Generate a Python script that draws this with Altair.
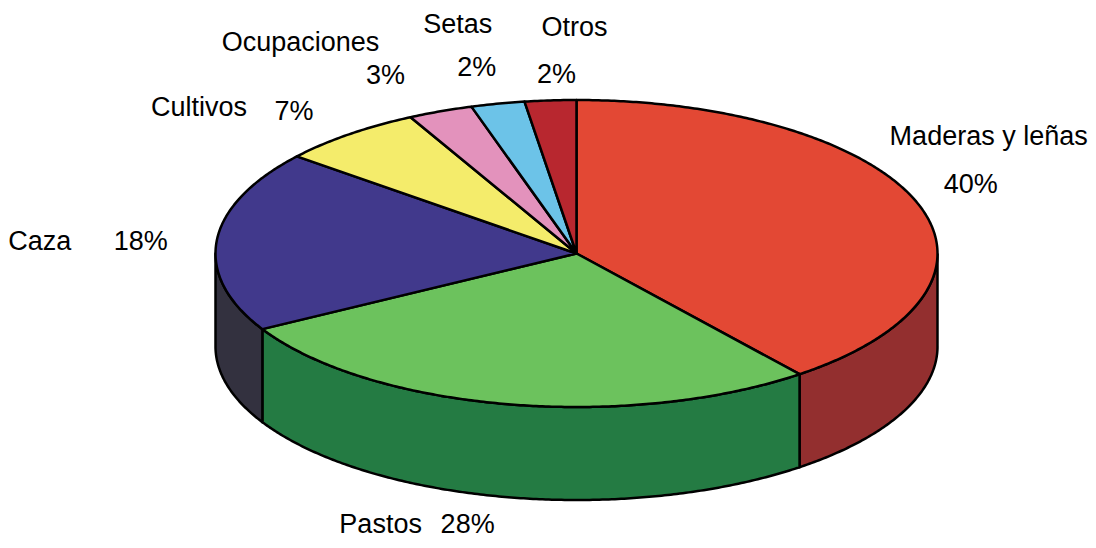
import altair as alt
import numpy as np
import pandas as pd

# ---- data ----
categories = ["Maderas y leñas", "Pastos", "Caza", "Cultivos", "Ocupaciones", "Setas", "Otros"]
values = [39.4, 27.4, 19.1, 6.5, 2.9, 2.4, 2.3]
pct_labels = ["40%", "28%", "18%", "7%", "3%", "2%", "2%"]

# ---- styles ----
top_colors = ["#E34834", "#6CC25D", "#41398C", "#F4EC6B", "#E392BC", "#6CC3E8", "#B8272F"]
side_colors = ["#932F2F", "#247B43", "#33313F", "#C9C256", "#B87598", "#5AA0BE", "#8E1F25"]

# label offsets (name dx, name dy, pct dx, pct dy) relative to the rim point of each slice's mid-angle
label_offsets = [
    (71, -66, 53, -18),
    (-126, 121, -39, 121),
    (-177, 2, -76, 2),
    (-150, -26, -55, -22),
    (-140, -68, -55, -35),
    (-40, -79, -21, -36),
    (24, -72, 6, -25),
]

# ---- geometry of the tilted pie ----
CX, CY, RX, RY, DEPTH = 576.5, 253.5, 361.0, 153.5, 93.0


def rim(a, dy=0.0):
    r = np.radians(a)
    return CX + RX * np.sin(r), CY - RY * np.cos(r) + dy


def arc(a0, a1, dy=0.0):
    n = max(2, int(abs(a1 - a0) / 0.5) + 1)
    return [rim(a, dy) for a in np.linspace(a0, a1, n)]


total = float(sum(values))
ends = np.cumsum(values) / total * 360.0
starts = np.concatenate([[0.0], ends[:-1]])

top_rows, side_rows, text_rows = [], [], []
for i, (cat, a0, a1) in enumerate(zip(categories, starts, ends)):
    pts = [(CX, CY)] + arc(a0, a1) + [(CX, CY)]
    for k, (x, y) in enumerate(pts):
        top_rows.append({"poly": f"t{i}", "idx": k, "x": x, "y": y, "fill": top_colors[i]})
    lo, hi = max(a0, 90.0), min(a1, 270.0)
    if lo < hi:
        spts = arc(lo, hi) + arc(hi, lo, DEPTH)
        spts.append(spts[0])
        for k, (x, y) in enumerate(spts):
            side_rows.append({"poly": f"s{i}", "idx": k, "x": x, "y": y, "fill": side_colors[i]})
    mid = (a0 + a1) / 2.0
    mx, my = rim(mid)
    ndx, ndy, pdx, pdy = label_offsets[i]
    text_rows.append({"x": mx + ndx, "y": my + ndy, "text": cat})
    text_rows.append({"x": mx + pdx, "y": my + pdy, "text": pct_labels[i]})

top_df = pd.DataFrame(top_rows)
side_df = pd.DataFrame(side_rows)
text_df = pd.DataFrame(text_rows)

xs = alt.Scale(domain=[8, 1088], nice=False, zero=False)
ys = alt.Scale(domain=[540, 8], nice=False, zero=False)


def poly_layer(df):
    return alt.Chart(df).mark_line(
        stroke="black", strokeWidth=2.5, strokeJoin="round"
    ).encode(
        x=alt.X("x:Q", scale=xs, axis=None),
        y=alt.Y("y:Q", scale=ys, axis=None),
        detail="poly:N",
        order="idx:Q",
        fill=alt.Fill("fill:N", scale=None),
    )


texts = alt.Chart(text_df).mark_text(
    font="Liberation Sans", fontSize=27, align="center", baseline="middle", color="black"
).encode(
    x=alt.X("x:Q", scale=xs, axis=None),
    y=alt.Y("y:Q", scale=ys, axis=None),
    text="text:N",
)

chart = alt.layer(poly_layer(side_df), poly_layer(top_df), texts).properties(
    width=1080, height=532, autosize="none", padding=0, background="white"
).configure_view(strokeWidth=0)

chart.save("out.html", embed_options={"renderer": "svg", "actions": False})
